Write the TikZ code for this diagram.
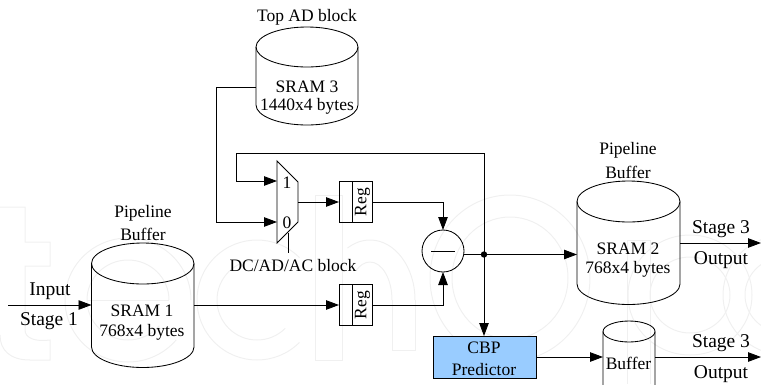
\documentclass[tikz,border=0pt]{standalone}
\usepackage{fontspec}
\setmainfont{Liberation Serif}
\usetikzlibrary{arrows.meta,calc}
\definecolor{cbpblue}{HTML}{99CCFF}
\definecolor{wmgray}{HTML}{F0F0F0}
\tikzset{
  x=1pt,y=-1pt,
  every node/.style={font=\fontsize{17.5}{19}\selectfont,inner sep=0pt,outer sep=0pt},
  biglabel/.style={font=\fontsize{19.5}{21}\selectfont},
  wire/.style={line width=0.85pt,draw=black},
  flow/.style={wire,-{Triangle[length=13pt,width=9.5pt]}},
  shell/.style={line width=0.85pt,draw=black},
  regbox/.style={shell,minimum width=33pt,minimum height=41.5pt},
  wmark/.style={line width=1pt,draw=wmgray},
  lowered/.style={yshift=-1.3pt},
}
% x-left, x-right, y-top-centre, y-bottom-centre, ry, name
\newcommand{\cylshape}[6]{%
  \node[inner sep=0pt,minimum width=#2pt-#1pt,minimum height=#4pt-#3pt] (#6) at ({(#1+#2)/2},{(#3+#4)/2}) {};
  \draw[shell] (#1,#3) -- (#1,#4) .. controls (#1,{#4+#5*0.55}) and ({(#1+#2)/2-(#2-#1)*0.275},{#4+#5}) .. ({(#1+#2)/2},{#4+#5})
     .. controls ({(#1+#2)/2+(#2-#1)*0.275},{#4+#5}) and (#2,{#4+#5*0.55}) .. (#2,#4) -- (#2,#3);
  \draw[shell] (#1,#3) .. controls (#1,{#3+#5*0.55}) and ({(#1+#2)/2-(#2-#1)*0.275},{#3+#5}) .. ({(#1+#2)/2},{#3+#5})
     .. controls ({(#1+#2)/2+(#2-#1)*0.275},{#3+#5}) and (#2,{#3+#5*0.55}) .. (#2,#3)
     .. controls (#2,{#3-#5*0.55}) and ({(#1+#2)/2+(#2-#1)*0.275},{#3-#5}) .. ({(#1+#2)/2},{#3-#5})
     .. controls ({(#1+#2)/2-(#2-#1)*0.275},{#3-#5}) and (#1,{#3-#5*0.55}) .. (#1,#3) -- cycle;
}
% cx, cy, rx, ry, start, end
\newcommand{\wmarc}[6]{%
  \draw[wmark] ({#1+#3*cos(#5)},{#2-#4*sin(#5)}) arc[start angle=#5,end angle=#6,x radius=#3pt,y radius=#4pt];
}
\begin{document}
\begin{tikzpicture}
\useasboundingbox (0,0) rectangle (761,384);
\begin{scope}
\clip (0,0) rectangle (761,384);
% faint background lettering
\draw[wmark] (0,207) -- (25,207) -- (25,242) -- (50,242) -- (50,266) -- (25,266) -- (25,330) .. controls (25,338) and (35,342) .. (50,340) -- (50,360) -- (30,360) .. controls (10,360) and (0,350) .. (0,335);
\wmarc{128}{300}{63}{62}{0}{320}
\wmarc{128}{300}{41}{40}{0}{180}
\wmarc{128}{300}{41}{40}{180}{320}
\draw[wmark] (87,300) -- (169,300);
\wmarc{257}{300}{60}{60}{45}{315}
\wmarc{257}{300}{40}{40}{45}{315}
\draw[wmark] (315,195) -- (342,195) -- (342,360) -- (315,360) -- cycle;
\wmarc{370}{300}{45}{60}{0}{120}
\wmarc{370}{300}{22}{38}{0}{130}
\draw[wmark] (415,300) -- (415,350) -- (392,350) -- (392,300);
\wmarc{510}{278}{80}{83}{0}{360}
\wmarc{510}{278}{58}{61}{0}{360}
\draw[wmark] (627,240) -- (650,240) -- (650,384);
\draw[wmark] (627,240) -- (627,384);
\wmarc{690}{295}{62}{60}{0}{360}
\wmarc{690}{295}{40}{38}{0}{360}
\wmarc{785}{295}{62}{60}{60}{300}
\wmarc{785}{295}{40}{38}{60}{300}
\cylshape{256}{358}{47}{105}{20}{sramc}
\cylshape{91.5}{194}{263.5}{347}{20.5}{srama}
\cylshape{577}{680}{201.5}{284}{20.5}{sramb}
\cylshape{603}{655}{331.5}{400}{10.5}{buf}
\end{scope}
% mux
\coordinate (m1) at (277,161);
\coordinate (m2) at (298,182);
\coordinate (m3) at (298,222);
\coordinate (m4) at (277,243);
\draw[shell] (m1) -- (m2) -- (m3) -- (m4) -- cycle;
% regs
\node[regbox,draw] (rega) at (355.5,202) {};
\node[regbox,draw] (regb) at (355.5,305) {};
\draw[shell] (352,181.5) -- (352,222.5);
\draw[shell] (352,284.5) -- (352,325.5);
\node[rotate=90] (rega text) at (362.5,202) {Reg};
\node[rotate=90] (regb text) at (362.5,305) {Reg};
% subtractor
\node[circle,shell,draw,minimum size=42pt] (sub) at (443,251) {};
\draw[shell] (431,251) -- (455,251);
% cbp
\node[draw=black,line width=0.9pt,fill=cbpblue,minimum width=103pt,minimum height=42pt] (cbp) at (484.5,357) {};
% text
\begin{scope}[every node/.append style={lowered}]
\node at (307,15.5) {Top AD block};
\node at (307,85) {SRAM 3};
\node at (307,105) {1440x4 bytes};
\node at (143,212) {Pipeline};
\node at (143,233) {Buffer};
\node at (142,309) {SRAM 1};
\node at (142,331) {768x4 bytes};
\node at (628,149) {Pipeline};
\node at (628,171) {Buffer};
\node at (628,247) {SRAM 2};
\node at (628,268) {768x4 bytes};
\node[biglabel] at (50,290) {Input};
\node[biglabel] at (49,320) {Stage 1};
\node[biglabel] at (721,228) {Stage 3};
\node[biglabel] at (721,259) {Output};
\node[biglabel] at (721,342) {Stage 3};
\node[biglabel] at (721,373) {Output};
\node at (293,264) {DC/AD/AC block};
\node (one) at (287,181) {1};
\node (zero) at (287,221.5) {0};
\node at (484,346) {CBP};
\node at (484,368) {Predictor};
\node (bufl) at (628.5,362) {Buffer};
\end{scope}
% connectors
\coordinate (dot) at (484,254.5);
\fill (dot) circle[radius=3.2pt];
\coordinate (in) at (8,305);
\coordinate (outa) at (761,243);
\coordinate (outb) at (761,357);
\draw[flow] (in) -- (91.5,305);
\draw[flow] (srama.east |- regb) -- (regb.west);
\draw[flow] (regb.east) -| (sub.south);
\draw[flow] (rega.east) -| (sub.north);
\draw[flow] (m2 |- rega) -- (rega.west);
\draw[wire] (sub.east |- dot) -- (dot);
\draw[flow] (dot) -- (sramb.west |- dot);
\draw[flow] (sramb.east |- outa) -- (outa);
\draw[flow] (dot) -- (cbp.north -| dot);
\draw[wire] (dot) -- (484,153) -- (236,153) -- (236,181);
\draw[flow] (236,181) -- (277,181);
\draw[wire] (sramc.west |- 0,87) -- (216,87) -- (216,222);
\draw[flow] (216,222) -- (277,222);
\draw[wire] (288,233) -- (288,253);
\draw[flow] (cbp.east) -- (buf.west |- cbp);
\draw[flow] (buf.east |- outb) -- (outb);
\end{tikzpicture}
\end{document}
